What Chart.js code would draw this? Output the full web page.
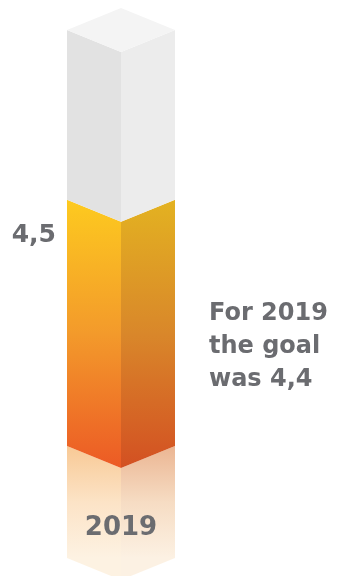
<!DOCTYPE html>
<html>
<head>
<meta charset="utf-8">
<script src="https://cdn.jsdelivr.net/npm/chart.js@4"></script>
<style>
  html, body { margin: 0; padding: 0; background: #ffffff; }
  #wrap { width: 338px; height: 576px; position: relative; }
</style>
</head>
<body>
<div id="wrap"><canvas id="chart"></canvas></div>
<script>
  // data
  const years = ["2019"];
  const resultValues = [4.5];
  const remainingValues = [3.1];
  const valueLabels = ["4,5"];
  const noteLines = ["For 2019", "the goal", "was 4,4"];

  const textColor = "#6b6c70";
  const fontFamily = "'DejaVu Sans', sans-serif";
  const depth = 22;

  function faceGradient(ctx, y0, y1, stops) {
    const g = ctx.createLinearGradient(0, y0, 0, y1);
    stops.forEach((s) => g.addColorStop(s[0], s[1]));
    return g;
  }

  function drawPrism(ctx, bar, left, right, top) {
    const x = bar.x, w = bar.width / 2;
    const y0 = Math.min(bar.y, bar.base), y1 = Math.max(bar.y, bar.base);

    ctx.beginPath();
    ctx.moveTo(x - w, y0);
    ctx.lineTo(x, y0 + depth);
    ctx.lineTo(x, y1 + depth);
    ctx.lineTo(x - w, y1);
    ctx.closePath();
    ctx.fillStyle = typeof left === "string" ? left : faceGradient(ctx, y0, y1 + depth, left);
    ctx.fill();

    ctx.beginPath();
    ctx.moveTo(x, y0 + depth);
    ctx.lineTo(x + w, y0);
    ctx.lineTo(x + w, y1);
    ctx.lineTo(x, y1 + depth);
    ctx.closePath();
    ctx.fillStyle = typeof right === "string" ? right : faceGradient(ctx, y0, y1 + depth, right);
    ctx.fill();

    if (top) {
      ctx.beginPath();
      ctx.moveTo(x - w, y0);
      ctx.lineTo(x, y0 - depth);
      ctx.lineTo(x + w, y0);
      ctx.lineTo(x, y0 + depth);
      ctx.closePath();
      ctx.fillStyle = top;
      ctx.fill();
    }
  }

  const prismPlugin = {
    id: "prism",
    afterDatasetsDraw(chart) {
      const ctx = chart.ctx;
      const result = chart.getDatasetMeta(0).data;
      const rest = chart.getDatasetMeta(1).data;
      ctx.save();

      result.forEach((bar, i) => {
        const x = bar.x, w = bar.width / 2, b = bar.base;
        const h = 112;

        // reflection under the bar
        ctx.beginPath();
        ctx.moveTo(x - w, b);
        ctx.lineTo(x, b + depth);
        ctx.lineTo(x, b + h + depth);
        ctx.lineTo(x - w, b + h);
        ctx.closePath();
        ctx.fillStyle = faceGradient(ctx, b, b + h, [
          [0, "#f8c995"],
          [0.5, "#fce3c6"],
          [1, "#fdf2e2"],
        ]);
        ctx.fill();
        ctx.beginPath();
        ctx.moveTo(x, b + depth);
        ctx.lineTo(x + w, b);
        ctx.lineTo(x + w, b + h);
        ctx.lineTo(x, b + h + depth);
        ctx.closePath();
        ctx.fillStyle = faceGradient(ctx, b, b + h, [
          [0, "#ebb592"],
          [0.5, "#f6dcc3"],
          [1, "#fcf1e3"],
        ]);
        ctx.fill();

        drawPrism(ctx, bar,
          [[0, "#fdca1f"], [0.5, "#f39a2b"], [1, "#ec5a25"]],
          [[0, "#e3b221"], [0.5, "#d9872a"], [1, "#d35022"]],
          null);
      });

      rest.forEach((bar) => {
        drawPrism(ctx, bar, "#e2e2e2", "#ececec", "#f4f4f4");
      });

      ctx.fillStyle = textColor;
      ctx.textBaseline = "alphabetic";

      // value label to the left of the bar top
      ctx.font = "bold 25px " + fontFamily;
      ctx.textAlign = "right";
      result.forEach((bar, i) => {
        ctx.fillText(valueLabels[i], bar.x - bar.width / 2 - 11, Math.min(bar.y, bar.base) + 42);
      });

      // category label over the reflection
      const xScale = chart.scales.x;
      ctx.font = "bold 26px " + fontFamily;
      ctx.textAlign = "center";
      years.forEach((y, i) => {
        ctx.fillText(y, xScale.getPixelForValue(i), chart.chartArea.bottom + 89);
      });

      // side note
      ctx.font = "bold 24px " + fontFamily;
      ctx.textAlign = "left";
      noteLines.forEach((line, i) => {
        ctx.fillText(line, 209, 320 + i * 33);
      });

      ctx.restore();
    },
  };

  new Chart(document.getElementById("chart"), {
    type: "bar",
    data: {
      labels: years,
      datasets: [
        { label: "Result", data: resultValues, backgroundColor: "rgba(0,0,0,0)", barThickness: 108 },
        { label: "Scale", data: remainingValues, backgroundColor: "rgba(0,0,0,0)", barThickness: 108 },
      ],
    },
    options: {
      responsive: true,
      maintainAspectRatio: false,
      animation: false,
      layout: { padding: { top: 30, bottom: 130, left: 40, right: 136 } },
      scales: {
        x: { stacked: true, display: false },
        y: { stacked: true, display: false, min: 0, max: 7.6 },
      },
      plugins: {
        legend: { display: false },
        tooltip: { enabled: false },
      },
    },
    plugins: [prismPlugin],
  });
</script>
</body>
</html>
